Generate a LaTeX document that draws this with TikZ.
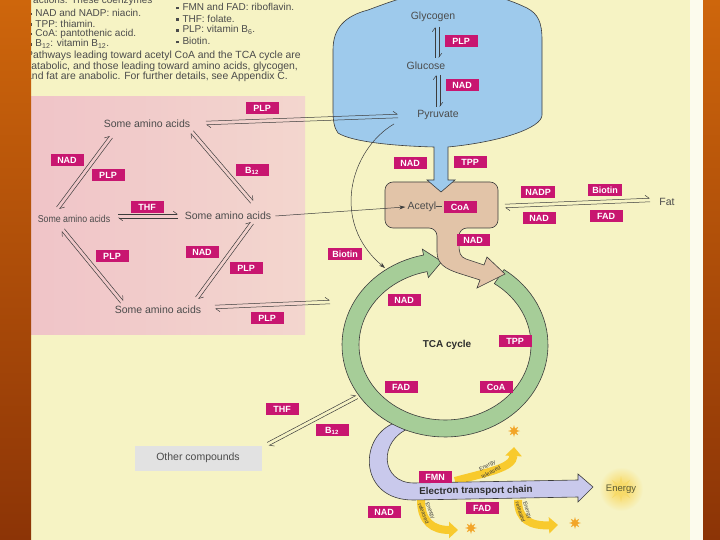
\documentclass[tikz,border=0pt]{standalone}
\usepackage{fontspec}
\setmainfont{Liberation Sans}
\usetikzlibrary{positioning,calc,arrows.meta,shapes.geometric}

\definecolor{pagecream}{RGB}{246,243,196}
\definecolor{pinkL}{RGB}{240,196,200}
\definecolor{pinkR}{RGB}{243,214,206}
\definecolor{glyblue}{RGB}{158,202,236}
\definecolor{tanfill}{RGB}{226,196,168}
\definecolor{ringgreen}{RGB}{166,205,152}
\definecolor{etclav}{RGB}{201,201,236}
\definecolor{cofmag}{RGB}{200,22,112}
\definecolor{linegray}{RGB}{60,60,60}
\definecolor{txtgray}{RGB}{75,75,75}
\definecolor{othergray}{RGB}{226,226,226}
\definecolor{enyellow}{RGB}{248,202,45}
\definecolor{starorange}{RGB}{242,165,40}
\definecolor{orangeT}{RGB}{206,102,12}
\definecolor{orangeB}{RGB}{140,52,6}

\tikzset{
  cof/.style={fill=cofmag, text=white, font=\bfseries\fontsize{9}{9}\selectfont,
    inner xsep=4pt, inner ysep=2.8pt, text height=6.5pt, text depth=0pt, minimum width=33pt},
  aa/.style={font=\fontsize{10.5}{11}\selectfont, text=txtgray, inner sep=1pt},
  txt/.style={font=\fontsize{10}{11}\selectfont, text=txtgray, inner sep=0pt, anchor=west},
  half/.style={draw=linegray, line width=0.5pt, -{Straight Barb[left,length=4pt,width=6pt]}},
  onearrow/.style={draw=linegray, line width=0.5pt, -{Stealth[length=6pt,width=4pt]}},
  shape line/.style={draw=linegray, line width=0.6pt},
  spark/.style={star, star points=8, star point ratio=2.3, fill=starorange, inner sep=0pt, minimum size=12pt},
  enarrow/.style={enyellow, line width=8pt, -{Triangle[length=9pt,width=16pt]}},
  entext/.style={font=\fontsize{5.5}{7.5}\selectfont, text=txtgray!80!black, align=center, inner sep=0pt}
}

% pair of half arrows running both ways
\newcommand{\revpair}[3][1.8pt]{%
  \draw[half] ($(#2)!#1!90:(#3)$) -- ($(#3)!#1!-90:(#2)$);
  \draw[half] ($(#3)!#1!90:(#2)$) -- ($(#2)!#1!-90:(#3)$);}
\newcommand{\bul}{\rule[0.25ex]{2.3pt}{2.3pt}\hspace{4pt}}

\begin{document}
\begin{tikzpicture}[x=1pt,y=-1pt]
\useasboundingbox (0,0) rectangle (720,540);

% page and pink panel
\fill[pagecream] (0,0) rectangle (720,540);
\fill[left color=pinkL, right color=pinkR] (31,97) rectangle (305,334);
\fill[white!70!pagecream] (690,0) rectangle (703,540);

% notes on top
\node[txt] (hdr) at (33,1) {actions. These coenzymes};
\node[txt] (v1) at (29,13) {\bul NAD and NADP: niacin.};
\node[txt] (v2) at (29,23.5) {\bul TPP: thiamin.};
\node[txt] (v3) at (29,34) {\bul CoA: pantothenic acid.};
\node[txt] (v4) at (29,44) {\bul B\textsubscript{12}: vitamin B\textsubscript{12}.};
\node[txt] (v5) at (176,7) {\bul FMN and FAD: riboflavin.};
\node[txt] (v6) at (176,18.5) {\bul THF: folate.};
\node[txt] (v7) at (176,30) {\bul PLP: vitamin B\textsubscript{6}.};
\node[txt] (v8) at (176,41) {\bul Biotin.};
\node[txt, font=\fontsize{10.4}{11}\selectfont] (p1) at (26,56) {Pathways leading toward acetyl CoA and the TCA cycle are};
\node[txt, font=\fontsize{10.4}{11}\selectfont] (p2) at (26,66.5) {catabolic, and those leading toward amino acids, glycogen,};
\node[txt, font=\fontsize{10.4}{11}\selectfont] (p3) at (26,77) {and fat are anabolic. For further details, see Appendix C.};

% energy released arrows
\draw[enarrow] (455,481) .. controls (488,472) and (513,468) .. (514,447);
\draw[enarrow] (421,500) .. controls (421,522) and (433,530) .. (458,530);
\draw[enarrow] (518,500) .. controls (518,520) and (531,526) .. (558,525);
\node[entext, rotate=28] (er1) at (489,469) {Energy\\released};
\node[entext, rotate=-68] (er2) at (427,512) {Energy\\released};
\node[entext, rotate=-72] (er3) at (524,511) {Energy\\released};
\node[spark] (s1) at (514,431) {};
\node[spark] (s2) at (471,528) {};
\node[spark] (s3) at (575,523) {};

% electron transport chain
\filldraw[fill=etclav, shape line] (392,424) .. controls (358,440) and (360,500) .. (413,500)
  -- (578,497) -- (578,502) -- (593,487) -- (578,474) -- (578,480) -- (414,483)
  .. controls (380,483) and (378,440) .. (410,428) -- cycle;
\node[font=\bfseries\fontsize{9.8}{10}\selectfont, text=txtgray!60!black, rotate=0.8] (etc) at (476,491) {Electron transport chain};
\shade[inner color=enyellow!85!white, outer color=pagecream] (621,489) circle[radius=22];
\node[spark, minimum size=26pt, fill=enyellow!60!pagecream, star point ratio=3] (s4) at (621,489) {};
\node[font=\fontsize{9.5}{10}\selectfont, text=txtgray!70!olive] (energy) at (621,489) {Energy};

% TCA ring
\filldraw[fill=ringgreen, shape line]
  plot[domain=-55:258, samples=90] ({445+103*cos(\x)},{345+92*sin(\x)})
  -- ({445+109*cos(258)},{345+98*sin(258)})
  -- ({445+94.5*cos(268)},{345+83.5*sin(268)})
  -- ({445+80*cos(258)},{345+69*sin(258)})
  -- plot[domain=258:-55, samples=90] ({445+86*cos(\x)},{345+75*sin(\x)}) -- cycle;
\node[font=\bfseries\fontsize{10}{10}\selectfont, text=txtgray!60!black] (tca) at (447,345) {TCA cycle};

% acetyl CoA block
\filldraw[fill=tanfill, shape line, rounded corners=8pt]
  (459,245) -- (459,228) -- (498,228) -- (498,182) -- (385,182) -- (385,228) -- (437,228)
  [sharp corners] -- (437,252) .. controls (437,264) and (446,269) .. (458,273)
  -- (480,280) -- (477,288) -- (505,274) -- (487,257) -- (484,265) -- (466,259)
  .. controls (460,257) and (459,252) .. (459,245);

% glycogen block
\filldraw[fill=glyblue, shape line]
  (434,147) .. controls (395,146) and (352,142) .. (338,133)
  .. controls (334,128) and (333,120) .. (333,110)
  -- (333,50) .. controls (333,28) and (345,16) .. (368,10)
  .. controls (395,0) and (415,-8) .. (450,-8)
  .. controls (490,-8) and (510,0) .. (527,8)
  .. controls (538,14) and (542,22) .. (542,40)
  -- (542,115) .. controls (542,128) and (500,142) .. (448,147)
  -- (448,180) -- (455,180) -- (441,192) -- (427,180) -- (434,180) -- cycle;
\node[aa] (gly) at (433,17) {Glycogen};
\node[aa] (glc) at (426,66) {Glucose};
\node[aa] (pyr) at (438,115) {Pyruvate};

% amino acids
\node[aa] (aaTop) at (147,124) {Some amino acids};
\node[aa, font=\fontsize{10}{10}\selectfont, xscale=0.88] (aaLeft) at (74,219) {Some amino acids};
\node[aa] (aaMid) at (228,216) {Some amino acids};
\node[aa] (aaBot) at (158,310) {Some amino acids};
\node[aa] (fat) at (667,202) {Fat};
\node[aa, fill=othergray, minimum width=127pt, minimum height=25pt] (other) at (198,458) {Other compounds};

% coenzyme labels
\node[cof] (plpGly) at (461,41) {PLP};
\node[cof] (nadGlc) at (462,85) {NAD};
\node[cof] (plpPyr) at (262,108) {PLP};
\node[cof] (nadTL) at (67,160) {NAD};
\node[cof] (plpTL) at (108,175) {PLP};
\node[cof] (b12TR) at (252,170) {B\textsubscript{12}};
\node[cof] (thfMid) at (147,207) {THF};
\node[cof] (plpBL) at (112,256) {PLP};
\node[cof] (nadBR) at (202,252) {NAD};
\node[cof] (plpBR) at (246,268) {PLP};
\node[cof] (plpBot) at (267,318) {PLP};
\node[cof] (biotinC) at (345,254) {Biotin};
\node[cof] (nadPdh) at (410,163) {NAD};
\node[cof] (tppPdh) at (470,162) {TPP};
\node[cof] (coaAc) at (460,207) {CoA};
\node[cof] (nadCs) at (473,240) {NAD};
\node[cof] (nadpFat) at (538,192) {NADP};
\node[cof] (biotinFat) at (605,190) {Biotin};
\node[cof] (nadFat) at (539,218) {NAD};
\node[cof] (fadFat) at (606,216) {FAD};
\node[cof] (nadTca) at (404,300) {NAD};
\node[cof] (tppTca) at (515,341) {TPP};
\node[cof] (fadTca) at (401,387) {FAD};
\node[cof] (coaTca) at (496,387) {CoA};
\node[cof] (thfOth) at (282,409) {THF};
\node[cof] (b12Oth) at (332,430) {B\textsubscript{12}};
\node[cof] (fmnEtc) at (435,477) {FMN};
\node[cof] (nadEtc) at (384,512) {NAD};
\node[cof] (fadEtc) at (482,508) {FAD};
\node[aa, left=0pt of coaAc] (acetyl) {Acetyl\rule[0.6ex]{6pt}{0.4pt}};

% arrow ends
\coordinate (g1) at (437,27);  \coordinate (g2) at (437,58);
\coordinate (g3) at (438,75);  \coordinate (g4) at (438,107);
\coordinate (t1) at (111,137); \coordinate (t2) at (58,208);
\coordinate (t3) at (192,132); \coordinate (t4) at (252,202);
\coordinate (b1) at (63,230);  \coordinate (b2) at (122,302);
\coordinate (b3) at (252,223); \coordinate (b4) at (197,298);
\coordinate (m1) at (118,216); \coordinate (m2) at (178,216);
\coordinate (y1) at (206,123); \coordinate (y2) at (398,116);
\coordinate (k1) at (215,307); \coordinate (k2) at (330,302);
\coordinate (f1) at (505,206); \coordinate (f2) at (650,200);
\coordinate (o1) at (268,444); \coordinate (o2) at (357,397);
\coordinate (tcaIn) at (385,268);

\revpair{g1}{g2}
\revpair{g3}{g4}
\revpair{t1}{t2}
\revpair{t3}{t4}
\revpair{b1}{b2}
\revpair{b3}{b4}
\revpair{m1}{m2}
\revpair{y1}{y2}
\revpair{k1}{k2}
\revpair{f1}{f2}
\revpair{o1}{o2}
\draw[onearrow] ([xshift=3pt]aaMid.east) -- ([xshift=-1pt]acetyl.west);
\draw[onearrow] ([xshift=-22pt,yshift=-3pt]pyr.south west) .. controls (350,150) and (330,222) .. (tcaIn);

% slide border
\fill[top color=orangeT, bottom color=orangeB] (0,0) rectangle (31,540);
\fill[top color=orangeT, bottom color=orangeB] (703,0) rectangle (720,540);
\end{tikzpicture}
\end{document}
